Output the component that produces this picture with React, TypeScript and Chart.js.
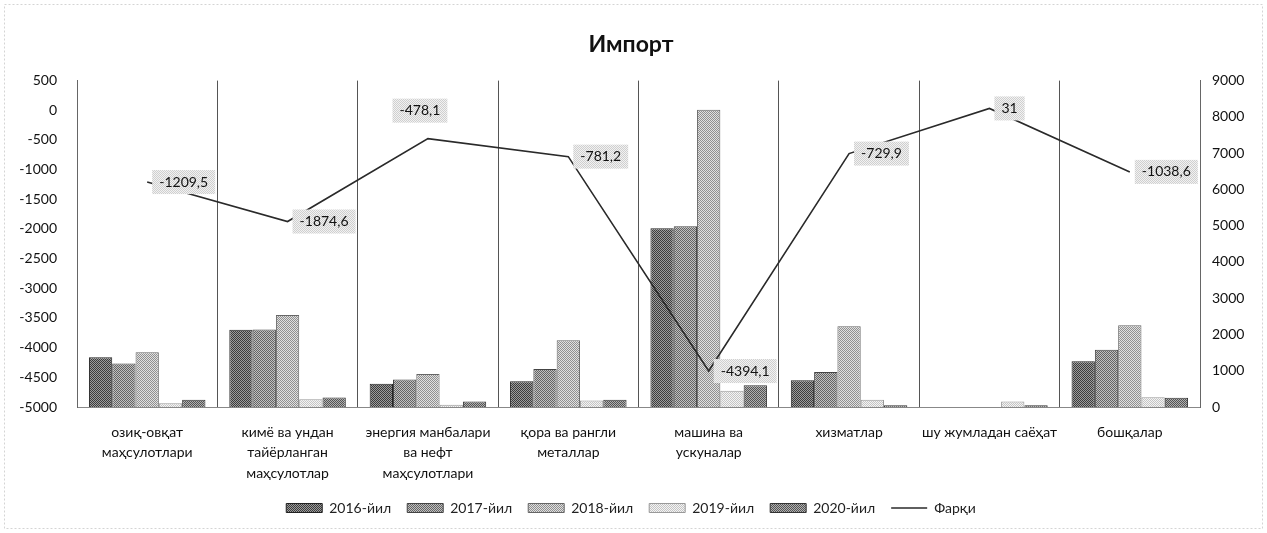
import React, { useEffect, useRef } from "react";
import { Chart, registerables } from "chart.js";

Chart.register(...registerables);

// ---- data ----
const titleText = "Импорт";
const categories: string[][] = [
  ["озиқ-овқат", "маҳсулотлари"],
  ["кимё ва ундан", "тайёрланган", "маҳсулотлар"],
  ["энергия манбалари", "ва нефт", "маҳсулотлари"],
  ["қора ва рангли", "металлар"],
  ["машина ва", "ускуналар"],
  ["хизматлар"],
  ["шу жумладан саёҳат"],
  ["бошқалар"],
];
const seriesNames = ["2016-йил", "2017-йил", "2018-йил", "2019-йил", "2020-йил"];
const values2016 = [1370, 2130, 640, 711, 4927, 740, 0, 1260];
const values2017 = [1200, 2135, 757, 1045, 4981, 962, 0, 1576];
const values2018 = [1510, 2540, 910, 1838, 8197, 2225, 0, 2251];
const values2019 = [100, 216, 60, 180, 450, 197, 150, 270];
const values2020 = [200, 262, 150, 197, 600, 45, 45, 252];
const diffName = "Фарқи";
const diffValues = [-1209.5, -1874.6, -478.1, -781.2, -4394.1, -729.9, 31, -1038.6];
const leftAxis = { min: -5000, max: 500, step: 500 };
const rightAxis = { min: 0, max: 9000, step: 1000 };

const FONT = "Lato, 'Liberation Sans', sans-serif";

function dither(a: string, b: string): CanvasPattern | string {
  const c = document.createElement("canvas");
  c.width = 2;
  c.height = 2;
  const x = c.getContext("2d");
  if (!x) return a;
  x.fillStyle = b;
  x.fillRect(0, 0, 2, 2);
  x.fillStyle = a;
  x.fillRect(0, 0, 1, 1);
  x.fillRect(1, 1, 1, 1);
  return x.createPattern(c, "repeat") || a;
}

export default function App() {
  const ref = useRef<HTMLCanvasElement | null>(null);

  useEffect(() => {
    if (!ref.current) return;
    const fills = [
      dither("#3c3c3c", "#9c9c9c"),
      dither("#646464", "#c0c0c0"),
      dither("#909090", "#e0e0e0"),
      dither("#c4c4c4", "#f4f4f4"),
      dither("#545454", "#b0b0b0"),
    ];
    const borders = ["#222", "#444", "#666", "#999", "#333"];
    const labelBg = dither("#cfcfcf", "#f2f2f2");
    const seriesValues = [values2016, values2017, values2018, values2019, values2020];

    const barSets = seriesNames.map((name, i) => ({
      type: "bar" as const,
      label: name,
      data: seriesValues[i],
      yAxisID: "y1",
      backgroundColor: fills[i],
      borderColor: borders[i],
      borderWidth: 1,
      categoryPercentage: 0.83,
      barPercentage: 1.0,
      order: 1,
    }));

    const frame = {
      id: "frame",
      beforeDraw(chart: any) {
        const ctx = chart.ctx;
        ctx.save();
        ctx.fillStyle = "#fff";
        ctx.fillRect(0, 0, chart.width, chart.height);
        ctx.strokeStyle = "#d4d4d4";
        ctx.lineWidth = 1;
        ctx.setLineDash([2, 2]);
        ctx.strokeRect(4.5, 4.5, chart.width - 9, chart.height - 9);
        ctx.restore();
      },
    };

    const lineLabels = {
      id: "lineLabels",
      afterDatasetsDraw(chart: any) {
        const meta = chart.getDatasetMeta(5);
        const ctx = chart.ctx;
        ctx.save();
        ctx.font = "14px " + FONT;
        ctx.textAlign = "center";
        ctx.textBaseline = "middle";
        meta.data.forEach((pt: any, i: number) => {
          const txt = String(diffValues[i]).replace(".", ",");
          const w = ctx.measureText(txt).width;
          let cx: number;
          let cy: number;
          if (i === 2) {
            cx = pt.x - 8;
            cy = pt.y - 28;
          } else {
            cx = pt.x + 12 + w / 2;
            cy = pt.y;
          }
          ctx.fillStyle = labelBg;
          ctx.fillRect(cx - w / 2 - 7, cy - 12, w + 14, 24);
          ctx.fillStyle = "#111";
          ctx.fillText(txt, cx, cy);
        });
        ctx.restore();
      },
    };

    const chart = new Chart(ref.current, {
      data: {
        labels: categories,
        datasets: [
          ...barSets,
          {
            type: "line" as const,
            label: diffName,
            data: diffValues,
            yAxisID: "y",
            borderColor: "#2a2a2a",
            backgroundColor: "#2a2a2a",
            borderWidth: 1.6,
            pointRadius: 0,
            pointStyle: "line",
            tension: 0,
            order: 0,
          },
        ],
      } as any,
      options: {
        responsive: false,
        animation: false,
        layout: { padding: { left: 5, right: 10, top: 0, bottom: 8 } },
        plugins: {
          title: {
            display: true,
            text: titleText,
            color: "#111",
            font: { family: FONT, size: 23, weight: "bold" },
            padding: { top: 31, bottom: 22 },
          },
          legend: {
            position: "bottom",
            labels: {
              color: "#222",
              font: { family: FONT, size: 14 },
              usePointStyle: true,
              pointStyleWidth: 36,
              boxWidth: 36,
              boxHeight: 9,
              padding: 16,
              generateLabels(chart: any) {
                const items = (Chart.defaults.plugins.legend.labels as any).generateLabels(chart);
                items.sort((a: any, b: any) => a.datasetIndex - b.datasetIndex);
                items.forEach((it: any) => {
                  it.pointStyle = it.datasetIndex === 5 ? "line" : "rect";
                });
                return items;
              },
            },
          },
          tooltip: { enabled: false },
        },
        scales: {
          x: {
            offset: true,
            grid: { display: true, offset: true, color: "#555", drawTicks: false },
            border: { display: true, color: "#888" },
            ticks: {
              color: "#111",
              font: { family: FONT, size: 14, lineHeight: 1.46 },
              padding: 15,
              maxRotation: 0,
              autoSkip: false,
            },
            afterFit(s: any) {
              s.height = 78;
            },
          },
          y: {
            position: "left",
            min: leftAxis.min,
            max: leftAxis.max,
            grid: { display: false, drawTicks: false },
            border: { display: true, color: "#666" },
            ticks: {
              stepSize: leftAxis.step,
              color: "#111",
              font: { family: FONT, size: 14 },
              padding: 20,
              callback: (v: any) => String(v),
            },
            afterFit(s: any) {
              s.width = 72;
            },
          },
          y1: {
            position: "right",
            min: rightAxis.min,
            max: rightAxis.max,
            grid: { display: false, drawTicks: false },
            border: { display: true, color: "#666" },
            ticks: {
              stepSize: rightAxis.step,
              color: "#111",
              font: { family: FONT, size: 14 },
              padding: 12,
              callback: (v: any) => String(v),
            },
            afterFit(s: any) {
              s.width = 57;
            },
          },
        },
      } as any,
      plugins: [frame, lineLabels],
    });
    return () => chart.destroy();
  }, []);

  return (
    <div style={{ position: "absolute", left: 0, top: 0, width: 1267, height: 533, background: "#fff" }}>
      <canvas ref={ref} width={1267} height={533} style={{ display: "block" }} />
    </div>
  );
}
